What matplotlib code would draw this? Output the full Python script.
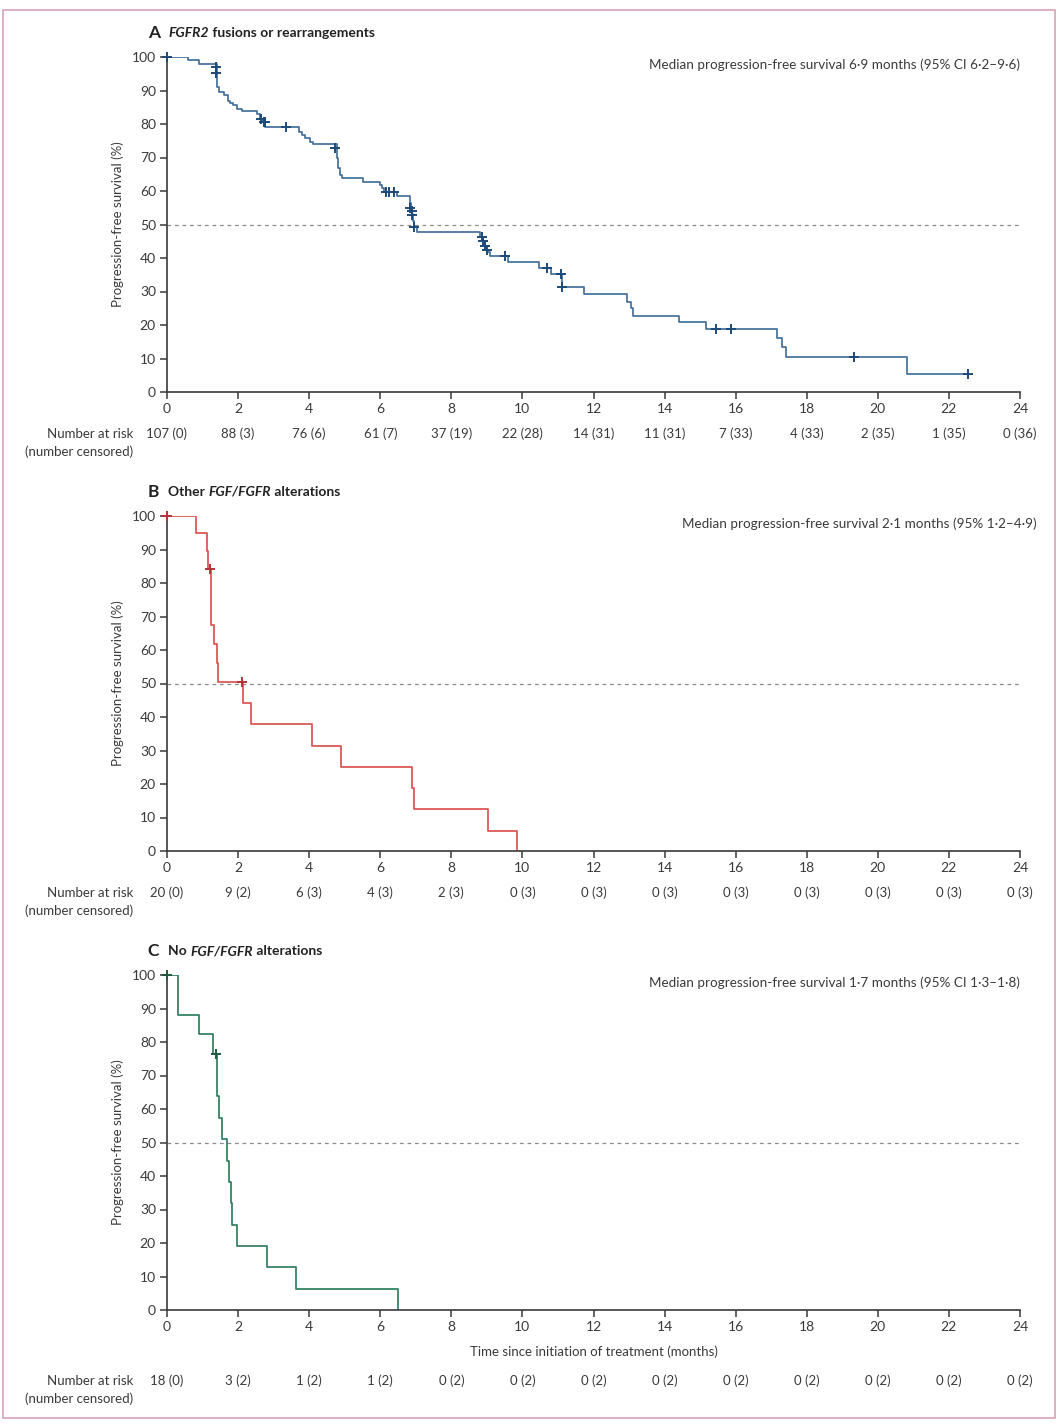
import numpy as np
import matplotlib
matplotlib.use('Agg')
import matplotlib.pyplot as plt
from matplotlib.patches import Rectangle

plt.rcParams['font.family'] = ['Lato', 'DejaVu Sans']

months = np.arange(0, 25, 2)

# A: FGFR2 fusions or rearrangements (step times / survival %)
a_t = [0, 0.60, 0.90, 1.40, 1.45, 1.59, 1.72, 1.77, 1.87, 1.96, 2.10, 2.52, 2.62, 2.70, 2.76,
       3.71, 3.79, 3.88, 4.02, 4.12, 4.77, 4.82, 4.87, 4.93, 4.97, 5.52, 5.99, 6.05, 6.10, 6.46,
       6.84, 6.87, 6.90, 6.93, 6.96, 7.03, 8.82, 8.90, 8.95, 9.00, 9.10, 9.60, 10.48, 10.80,
       11.12, 11.73, 12.93, 13.05, 13.12, 14.41, 15.16, 17.15, 17.30, 17.41, 20.81, 22.55]
a_s = [100, 99.1, 98.0, 91.0, 89.7, 88.7, 87.0, 86.3, 85.6, 84.6, 83.8, 82.9, 81.4, 80.6, 79.0,
       77.7, 76.7, 75.7, 74.7, 74.0, 69.8, 66.8, 64.7, 63.8, 63.8, 62.8, 61.8, 60.8, 59.8, 58.6,
       56.5, 54.5, 53.0, 51.0, 49.3, 47.8, 46.3, 45.0, 43.5, 41.9, 40.6, 38.9, 36.9, 35.1,
       31.4, 29.2, 27.0, 25.0, 22.8, 20.8, 18.7, 16.0, 13.3, 10.5, 5.3, 5.3]
a_cens_t = [0, 1.38, 1.38, 2.64, 2.72, 2.76, 3.34, 4.73, 6.15, 6.25, 6.38, 6.85, 6.88, 6.90, 6.95,
            8.85, 8.90, 8.95, 9.00, 9.51, 10.70, 11.09, 11.12, 15.44, 15.87, 19.33, 22.55]
a_cens_s = [100, 97.0, 95.3, 81.4, 80.6, 80.6, 79.0, 72.9, 59.8, 59.8, 59.8, 55.0, 54.0, 52.8, 49.3,
            46.3, 45.0, 43.5, 42.5, 40.6, 36.9, 35.1, 31.4, 18.7, 18.7, 10.5, 5.3]
a_risk = ['107 (0)', '88 (3)', '76 (6)', '61 (7)', '37 (19)', '22 (28)', '14 (31)', '11 (31)',
          '7 (33)', '4 (33)', '2 (35)', '1 (35)', '0 (36)']

# B: Other FGF/FGFR alterations
b_t = [0, 0.82, 1.12, 1.15, 1.23, 1.33, 1.42, 1.44, 2.13, 2.36, 4.07, 4.90, 6.90, 6.95, 9.04, 9.86]
b_s = [100, 95.0, 89.5, 84.2, 67.4, 61.7, 56.0, 50.4, 44.3, 37.9, 31.4, 25.1, 18.8, 12.5, 6.1, 0]
b_cens_t = [0, 1.20, 2.10]
b_cens_s = [100, 84.2, 50.4]
b_risk = ['20 (0)', '9 (2)', '6 (3)', '4 (3)', '2 (3)', '0 (3)', '0 (3)', '0 (3)', '0 (3)',
          '0 (3)', '0 (3)', '0 (3)', '0 (3)']

# C: No FGF/FGFR alterations
c_t = [0, 0.30, 0.90, 1.30, 1.42, 1.47, 1.55, 1.70, 1.74, 1.80, 1.84, 1.98, 2.82, 3.62, 6.51]
c_s = [100, 88.2, 82.4, 76.5, 63.9, 57.3, 50.9, 44.5, 38.3, 31.9, 25.4, 19.2, 12.9, 6.4, 0]
c_cens_t = [0, 1.38]
c_cens_s = [100, 76.5]
c_risk = ['18 (0)', '3 (2)', '1 (2)', '1 (2)', '0 (2)', '0 (2)', '0 (2)', '0 (2)', '0 (2)',
          '0 (2)', '0 (2)', '0 (2)', '0 (2)']

W, H = 1060, 1424
fig = plt.figure(figsize=(W / 100, H / 100), dpi=100)
fig.patch.set_facecolor('white')
fig.add_artist(Rectangle((3 / W, 6 / H), 1052 / W, 1408 / H, transform=fig.transFigure,
                         fill=False, edgecolor='#d9a3b3', lw=1.2))

TXT = '#3a3a3a'
FS = 9.5
L, R = 167, 1020


def px(x, y):
    return x / W, 1 - y / H


def title_row(x, y, parts):
    r = fig.canvas.get_renderer()
    xf = x / W
    for s, kw in parts:
        t = fig.text(xf, 1 - y / H, s, va='center', ha='left', color='#222222', **kw)
        xf += t.get_window_extent(r).width / W


def panel(top, t, s, ct, cs, col, mcol, risk, title, median, med_right, risk_y, xlabel=False):
    ax = fig.add_axes([L / W, 1 - (top + 335) / H, (R - L) / W, 335 / H])
    ax.axhline(50, color='#8c8c8c', lw=0.9, ls=(0, (3, 3)), zorder=1)
    ax.step(t, s, where='post', color=col, lw=1.25, zorder=2)
    ax.plot(ct, cs, ls='none', marker='+', ms=7, mew=1.4, color=mcol, zorder=3, clip_on=False)
    ax.set_xlim(0, 24)
    ax.set_ylim(0, 100)
    ax.set_xticks(months)
    ax.set_yticks(range(0, 101, 10))
    for sp in ['top', 'right']:
        ax.spines[sp].set_visible(False)
    for sp in ['left', 'bottom']:
        ax.spines[sp].set_color('#3a3a3a')
        ax.spines[sp].set_linewidth(1.2)
    ax.tick_params(direction='out', length=5, width=1.1, color='#3a3a3a', labelsize=FS + 0.5,
                   labelcolor=TXT, pad=3)
    fig.text(*px(118, top + 167), 'Progression-free survival (%)', rotation=90,
             ha='center', va='center', fontsize=FS, color=TXT)
    fig.text(*px(med_right, top + 8), median, ha='right', va='center', fontsize=FS + 0.2, color=TXT)
    title_row(148, top - 24, title)
    for m, lab in zip(months, risk):
        fig.text(*px(L + (R - L) * m / 24, risk_y), lab, ha='center', va='center',
                 fontsize=FS, color=TXT)
    fig.text(*px(133, risk_y), 'Number at risk', ha='right', va='center', fontsize=FS, color=TXT)
    fig.text(*px(133, risk_y + 18), '(number censored)', ha='right', va='center',
             fontsize=FS, color=TXT)
    if xlabel:
        fig.text(*px((L + R) / 2, top + 377), 'Time since initiation of treatment (months)',
                 ha='center', va='center', fontsize=FS, color=TXT)
    return ax


panel(57, a_t, a_s, a_cens_t, a_cens_s, '#44709a', '#1d4a78', a_risk,
      [('A  ', dict(fontsize=12.5, fontweight='bold')),
       ('FGFR2', dict(fontsize=10, fontweight='bold', fontstyle='italic')),
       (' fusions or rearrangements', dict(fontsize=10, fontweight='bold'))],
      'Median progression-free survival 6·9 months (95% CI 6·2–9·6)', 1020, 434)

panel(516, b_t, b_s, b_cens_t, b_cens_s, '#d9534f', '#b8323a', b_risk,
      [('B  ', dict(fontsize=12.5, fontweight='bold')),
       ('Other ', dict(fontsize=10, fontweight='bold')),
       ('FGF/FGFR', dict(fontsize=10, fontweight='bold', fontstyle='italic')),
       (' alterations', dict(fontsize=10, fontweight='bold'))],
      'Median progression-free survival 2·1 months (95% 1·2–4·9)', 1037, 893)

panel(975, c_t, c_s, c_cens_t, c_cens_s, '#2f7f5f', '#1f5a40', c_risk,
      [('C  ', dict(fontsize=12.5, fontweight='bold')),
       ('No ', dict(fontsize=10, fontweight='bold')),
       ('FGF/FGFR', dict(fontsize=10, fontweight='bold', fontstyle='italic')),
       (' alterations', dict(fontsize=10, fontweight='bold'))],
      'Median progression-free survival 1·7 months (95% CI 1·3–1·8)', 1020, 1381, xlabel=True)

fig.savefig('out.png', dpi=100)
